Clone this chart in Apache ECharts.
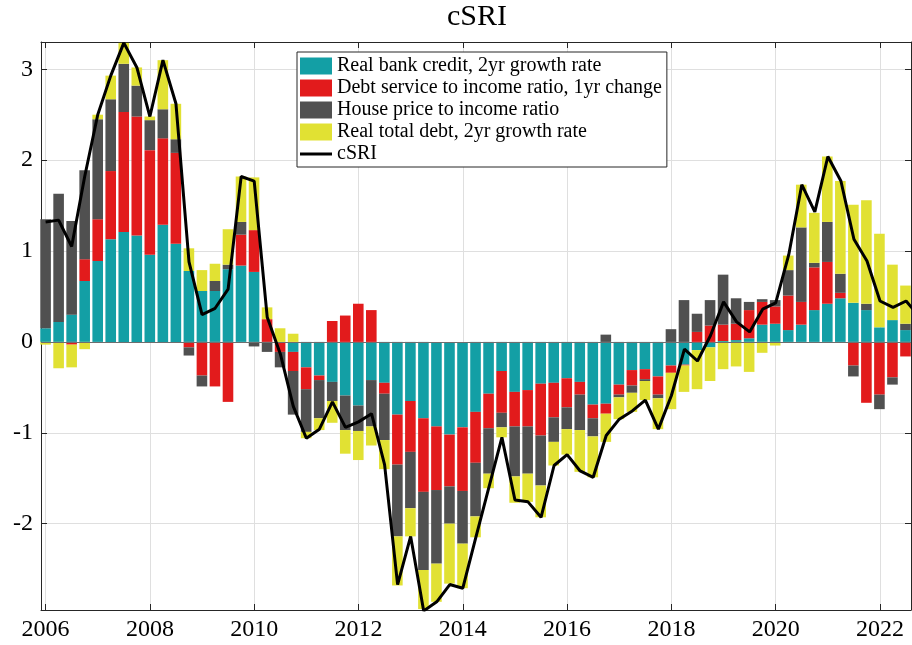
<!DOCTYPE html>
<html>
<head>
<meta charset="utf-8">
<title>cSRI</title>
<script src="https://cdn.jsdelivr.net/npm/echarts@6/dist/echarts.min.js"></script>
<style>
  html, body { margin: 0; padding: 0; background: #fff; }
  #chart { width: 912px; height: 645px; }
</style>
</head>
<body>
<div id="chart"></div>
<script>
  // quarterly observations, decimal years (last one only has a cSRI value)
  const quarters = [
    2006.00, 2006.25, 2006.50, 2006.75, 2007.00, 2007.25, 2007.50, 2007.75,
    2008.00, 2008.25, 2008.50, 2008.75, 2009.00, 2009.25, 2009.50, 2009.75,
    2010.00, 2010.25, 2010.50, 2010.75, 2011.00, 2011.25, 2011.50, 2011.75,
    2012.00, 2012.25, 2012.50, 2012.75, 2013.00, 2013.25, 2013.50, 2013.75,
    2014.00, 2014.25, 2014.50, 2014.75, 2015.00, 2015.25, 2015.50, 2015.75,
    2016.00, 2016.25, 2016.50, 2016.75, 2017.00, 2017.25, 2017.50, 2017.75,
    2018.00, 2018.25, 2018.50, 2018.75, 2019.00, 2019.25, 2019.50, 2019.75,
    2020.00, 2020.25, 2020.50, 2020.75, 2021.00, 2021.25, 2021.50, 2021.75,
    2022.00, 2022.25, 2022.50, 2022.75
  ]

  const bankCredit = [
    0.15, 0.22, 0.30, 0.67, 0.89, 1.13, 1.21, 1.17,
    0.96, 1.29, 1.08, 0.78, 0.56, 0.56, 0.80, 0.84,
    0.77, 0, 0, -0.11, -0.28, -0.37, -0.44, -0.59,
    -0.70, -0.42, -0.45, -0.80, -0.65, -0.84, -0.93, -1.02,
    -0.94, -0.77, -0.57, -0.32, -0.55, -0.53, -0.46, -0.45,
    -0.40, -0.44, -0.69, -0.68, -0.47, -0.31, -0.30, -0.38,
    -0.26, -0.25, -0.09, -0.06, 0.01, 0.02, 0.04, 0.19,
    0.20, 0.13, 0.19, 0.35, 0.42, 0.48, 0.43, 0.35,
    0.16, 0.24, 0.13
  ]

  const debtService = [
    0, 0, -0.03, 0.24, 0.46, 0.75, 1.32, 1.31,
    1.15, 0.95, 1.00, -0.06, -0.37, -0.49, -0.66, 0.34,
    0.46, 0.25, -0.11, -0.21, -0.24, -0.05, 0.23, 0.29,
    0.42, 0.35, -0.12, -0.55, -0.56, -0.81, -0.70, -0.57,
    -0.70, -0.56, -0.38, -0.46, -0.38, -0.40, -0.57, -0.38,
    -0.32, -0.14, -0.15, -0.11, -0.11, -0.17, -0.11, -0.20,
    -0.08, -0.01, 0.11, 0.18, 0.18, 0.18, 0.31, 0.25,
    0.19, 0.38, 0.25, 0.47, 0.46, 0.06, -0.26, -0.67,
    -0.58, -0.39, -0.16
  ]

  const housePrice = [
    1.20, 1.41, 1.03, 0.98, 1.10, 0.79, 0.53, 0.34,
    0.33, 0.32, 0.15, -0.09, -0.12, 0.11, 0.05, 0.14,
    -0.05, -0.11, -0.17, -0.48, -0.47, -0.42, -0.21, -0.38,
    -0.28, -0.51, -0.51, -0.79, -0.62, -0.86, -0.81, -0.41,
    -0.58, -0.59, -0.50, -0.16, -0.55, -0.52, -0.55, -0.27,
    -0.24, -0.39, -0.20, 0.08, -0.03, -0.08, -0.02, -0.04,
    0.14, 0.46, 0.20, 0.28, 0.55, 0.28, 0.09, 0.03,
    0.07, 0.28, 0.82, 0.05, 0.44, 0.21, -0.12, 0.07,
    -0.16, -0.08, 0.07
  ]

  const totalDebt = [
    -0.03, -0.29, -0.25, -0.08, 0.05, 0.26, 0.23, 0.20,
    0.04, 0.54, 0.39, 0.25, 0.23, 0.19, 0.39, 0.50,
    0.58, 0.13, 0.15, 0.09, -0.07, -0.13, -0.24, -0.26,
    -0.32, -0.21, -0.32, -0.54, -0.31, -0.43, -0.42, -0.66,
    -0.49, -0.23, -0.16, -0.11, -0.29, -0.31, -0.35, -0.26,
    -0.28, -0.46, -0.45, -0.31, -0.24, -0.21, -0.21, -0.34,
    -0.40, -0.29, -0.43, -0.37, -0.30, -0.27, -0.33, -0.12,
    -0.04, 0.16, 0.47, 0.55, 0.72, 1.02, 1.08, 1.14,
    1.03, 0.61, 0.42
  ]

  const csri = [
    1.32, 1.34, 1.05, 1.82, 2.50, 2.93, 3.29, 3.02,
    2.48, 3.10, 2.62, 0.88, 0.30, 0.37, 0.58, 1.82,
    1.77, 0.27, -0.13, -0.71, -1.06, -0.96, -0.66, -0.94,
    -0.88, -0.79, -1.35, -2.67, -2.14, -2.96, -2.86, -2.67,
    -2.71, -2.15, -1.60, -1.05, -1.74, -1.76, -1.93, -1.36,
    -1.24, -1.42, -1.49, -1.03, -0.85, -0.76, -0.64, -0.96,
    -0.59, -0.08, -0.21, 0.07, 0.44, 0.22, 0.11, 0.36,
    0.43, 0.96, 1.73, 1.43, 2.04, 1.77, 1.13, 0.89,
    0.45, 0.38, 0.45, 0.28
  ]

  const yearTicks = [2006, 2008, 2010, 2012, 2014, 2016, 2018, 2020, 2022]
  const valueTicks = [-2, -1, 0, 1, 2, 3]

  const X_MIN = 2005.912
  const X_MAX = 2022.594
  const Y_MIN = -2.95
  const Y_MAX = 3.3

  const font = "'Liberation Serif', 'DejaVu Serif', serif"
  const axisColor = '#262626'

  // frame grid geometry
  const GRID_LEFT = 41
  const GRID_WIDTH = 870
  const GRID_TOP = 42
  const GRID_BOTTOM = 35

  // bar grid: a category band per quarter, laid over the frame so that
  // each band centre falls on its quarter of the year axis
  const barQuarters = quarters.slice(0, bankCredit.length)
  const pxPerYear = GRID_WIDTH / (X_MAX - X_MIN)
  const barGridLeft = GRID_LEFT + (barQuarters[0] - 0.125 - X_MIN) * pxPerYear
  const barGridWidth = (barQuarters[barQuarters.length - 1] - barQuarters[0] + 0.25) * pxPerYear

  function barSeries(name, values, color) {
    return {
      name: name,
      type: 'bar',
      stack: 'components',
      xAxisIndex: 2,
      yAxisIndex: 2,
      barWidth: 10.6,
      itemStyle: { color: color },
      emphasis: { disabled: true },
      data: values
    }
  }

  function frameAxis(extra) {
    return Object.assign({
      type: 'value',
      axisLine: { show: true, onZero: false, lineStyle: { color: axisColor, width: 1 } },
      axisLabel: { show: false },
      splitLine: { show: false }
    }, extra)
  }

  const chart = echarts.init(document.getElementById('chart'))
  chart.setOption({
    animation: false,
    backgroundColor: '#fff',
    title: {
      text: 'cSRI',
      left: 477,
      top: 2,
      padding: 0,
      textAlign: 'center',
      textStyle: { fontFamily: font, fontSize: 30, fontWeight: 'normal', color: '#000' }
    },
    grid: [
      { left: GRID_LEFT, width: GRID_WIDTH, top: GRID_TOP, bottom: GRID_BOTTOM },
      { left: barGridLeft, width: barGridWidth, top: GRID_TOP, bottom: GRID_BOTTOM }
    ],
    legend: {
      orient: 'vertical',
      left: 297,
      top: 52,
      padding: [4, 5, 3, 3],
      itemWidth: 32,
      itemHeight: 17,
      itemGap: 2,
      backgroundColor: '#fff',
      borderColor: axisColor,
      borderWidth: 1,
      borderRadius: 0,
      z: 20,
      textStyle: { fontFamily: font, fontSize: 20, lineHeight: 20, color: '#000' },
      data: [
        { name: 'Real bank credit, 2yr growth rate', icon: 'rect' },
        { name: 'Debt service to income ratio, 1yr change', icon: 'rect' },
        { name: 'House price to income ratio', icon: 'rect' },
        { name: 'Real total debt, 2yr growth rate', icon: 'rect' },
        { name: 'cSRI', icon: 'path://M0,0M32,17M0,7h32v3h-32z' }
      ]
    },
    xAxis: [
      {
        type: 'value',
        gridIndex: 0,
        position: 'bottom',
        min: X_MIN,
        max: X_MAX,
        axisLine: { show: true, onZero: false, lineStyle: { color: axisColor, width: 1 } },
        axisTick: { show: true, inside: true, length: 6, customValues: yearTicks, lineStyle: { color: axisColor } },
        axisLabel: {
          customValues: yearTicks,
          margin: 8,
          color: '#000',
          fontFamily: font,
          fontSize: 24,
          formatter: v => String(v)
        },
        splitLine: { show: true, lineStyle: { color: '#dfdfdf', width: 1 } }
      },
      frameAxis({
        gridIndex: 0,
        position: 'top',
        min: X_MIN,
        max: X_MAX,
        axisTick: { show: true, inside: true, length: 6, customValues: yearTicks, lineStyle: { color: axisColor } }
      }),
      {
        type: 'category',
        gridIndex: 1,
        show: false,
        boundaryGap: true,
        data: barQuarters.map(String)
      }
    ],
    yAxis: [
      {
        type: 'value',
        gridIndex: 0,
        position: 'left',
        min: Y_MIN,
        max: Y_MAX,
        axisLine: { show: true, onZero: false, lineStyle: { color: axisColor, width: 1 } },
        axisTick: { show: true, inside: true, length: 6, customValues: valueTicks, lineStyle: { color: axisColor } },
        axisLabel: { customValues: valueTicks, margin: 8, color: '#000', fontFamily: font, fontSize: 24 },
        splitLine: { show: true, lineStyle: { color: '#dfdfdf', width: 1 } }
      },
      frameAxis({
        gridIndex: 0,
        position: 'right',
        min: Y_MIN,
        max: Y_MAX,
        axisTick: { show: true, inside: true, length: 6, customValues: valueTicks, lineStyle: { color: axisColor } }
      }),
      {
        type: 'value',
        gridIndex: 1,
        show: false,
        min: Y_MIN,
        max: Y_MAX
      }
    ],
    series: [
      barSeries('Real bank credit, 2yr growth rate', bankCredit, '#139fa5'),
      barSeries('Debt service to income ratio, 1yr change', debtService, '#e21b1c'),
      barSeries('House price to income ratio', housePrice, '#505050'),
      barSeries('Real total debt, 2yr growth rate', totalDebt, '#e1e133'),
      {
        name: 'cSRI',
        type: 'line',
        xAxisIndex: 0,
        yAxisIndex: 0,
        z: 10,
        symbol: 'none',
        lineStyle: { color: '#000', width: 3 },
        itemStyle: { color: '#000' },
        emphasis: { disabled: true },
        data: quarters.map((q, i) => [q, csri[i]]),
        markLine: {
          silent: true,
          symbol: 'none',
          label: { show: false },
          lineStyle: { color: '#6e6e6e', width: 1, type: 'solid' },
          data: [{ yAxis: 0 }]
        }
      }
    ]
  })
</script>
</body>
</html>
